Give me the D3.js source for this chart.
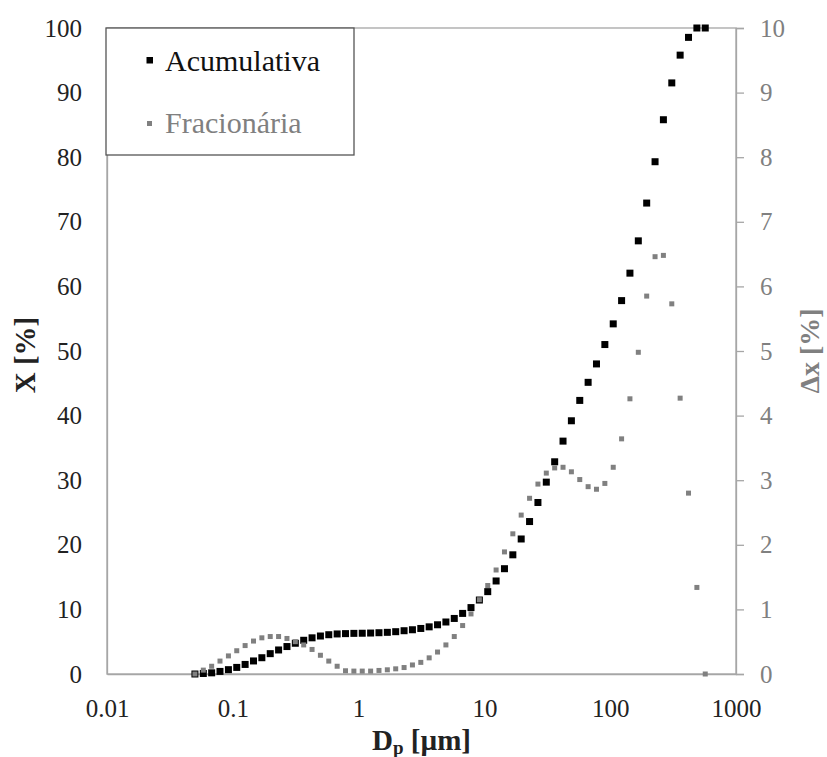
<!DOCTYPE html>
<html lang="pt">
<head>
    <meta charset="UTF-8">
    <title>distribuicao granulometrica</title>
    <script src="https://d3js.org/d3.v7.min.js"></script>
    <style>
        body{ margin:0; background:#fff; }
        text{ font-family:"Liberation Serif","Times New Roman",serif; }
    </style>
</head>
<body>
<svg id="main" width="827" height="757"></svg>

<script>
    // particle diameter [um]
    let size_um = [0.050, 0.0583, 0.0679, 0.0791, 0.0923, 0.1075, 0.1253, 0.1461, 0.1702, 0.1984,
        0.2312, 0.2695, 0.3141, 0.3661, 0.4266, 0.4972, 0.5794, 0.6753, 0.787, 0.9173,
        1.069, 1.246, 1.452, 1.692, 1.972, 2.299, 2.679, 3.122, 3.639, 4.241,
        4.943, 5.761, 6.714, 7.825, 9.12, 10.63, 12.39, 14.44, 16.83, 19.61,
        22.86, 26.64, 31.05, 36.19, 42.17, 49.15, 57.28, 66.76, 77.8, 90.68,
        105.7, 123.2, 143.5, 167.3, 195.0, 227.3, 264.8, 308.7, 359.7, 419.3,
        488.7, 569.6]
    // cumulative X [%] (left axis)
    let acumulativa = [0, 0.08, 0.18, 0.4, 0.67, 1.02, 1.48, 2.02, 2.52, 3.15,
        3.72, 4.25, 4.76, 5.22, 5.6, 5.88, 6.08, 6.2, 6.25, 6.29,
        6.31, 6.34, 6.39, 6.45, 6.55, 6.7, 6.85, 7.05, 7.3, 7.62,
        8.05, 8.6, 9.38, 10.28, 11.45, 12.75, 14.4, 16.3, 18.45, 20.9,
        23.6, 26.55, 29.7, 32.85, 36.05, 39.2, 42.35, 45.15, 48.0, 51.0,
        54.2, 57.8, 62.05, 67.05, 72.9, 79.3, 85.8, 91.5, 95.8, 98.55,
        100, 100]
    // fractional dx [%] (right axis)
    let fracionaria = [0, 0.06, 0.12, 0.2, 0.28, 0.36, 0.44, 0.51, 0.56, 0.58,
        0.58, 0.55, 0.5, 0.45, 0.38, 0.29, 0.2, 0.12, 0.05, 0.045,
        0.045, 0.045, 0.055, 0.065, 0.08, 0.1, 0.14, 0.18, 0.25, 0.34,
        0.45, 0.58, 0.75, 0.93, 1.15, 1.37, 1.61, 1.89, 2.17, 2.46,
        2.72, 2.94, 3.11, 3.19, 3.2, 3.13, 3.01, 2.9, 2.86, 2.95,
        3.2, 3.64, 4.26, 4.98, 5.85, 6.46, 6.48, 5.73, 4.27, 2.8,
        1.34, 0]

    let x_ticks = [0.01, 0.1, 1, 10, 100, 1000]
    let x_tick_labels = ["0.01", "0.1", "1", "10", "100", "1000"]
    let y_ticks = [0, 10, 20, 30, 40, 50, 60, 70, 80, 90, 100]
    let y2_ticks = [0, 1, 2, 3, 4, 5, 6, 7, 8, 9, 10]

    let p_left = 107, p_right = 736, p_top = 28, p_bottom = 674
    let axis_grey = "#a6a6a6"

    let svg = d3.select("#main")

    let x = d3.scaleLog().domain([0.01, 1000]).range([p_left, p_right])
    let y = d3.scaleLinear().domain([0, 100]).range([p_bottom, p_top])
    let y2 = d3.scaleLinear().domain([0, 10]).range([p_bottom, p_top])

    // plot frame
    svg.append("rect")
        .attr("x", p_left).attr("y", p_top)
        .attr("width", p_right - p_left).attr("height", p_bottom - p_top)
        .attr("fill", "none")
        .attr("stroke", axis_grey)
        .attr("stroke-width", 1.3)

    // left axis
    let gl = svg.append("g")
        .attr("transform", `translate(${p_left},0)`)
        .call(d3.axisLeft(y).tickValues(y_ticks).tickSize(0).tickPadding(25))
    gl.select(".domain").attr("stroke", axis_grey).attr("stroke-width", 1.3)
    gl.selectAll("text").attr("font-size", 25).attr("fill", "#222")

    // right axis
    let gr = svg.append("g")
        .attr("transform", `translate(${p_right},0)`)
        .call(d3.axisRight(y2).tickValues(y2_ticks).tickSize(8).tickPadding(16))
    gr.select(".domain").attr("stroke", axis_grey).attr("stroke-width", 1.3)
    gr.selectAll("line").attr("stroke", axis_grey).attr("stroke-width", 1.3)
    gr.selectAll("text").attr("font-size", 25).attr("fill", "#808080")

    // bottom axis
    let gb = svg.append("g")
        .attr("transform", `translate(0,${p_bottom})`)
        .call(d3.axisBottom(x).tickValues(x_ticks).tickSize(0).tickPadding(25)
            .tickFormat((d, i) => x_tick_labels[i]))
    gb.select(".domain").attr("stroke", axis_grey).attr("stroke-width", 1.3)
    gb.selectAll("text").attr("font-size", 25).attr("fill", "#222")

    // cumulative points (black, a bit bigger)
    let sb = 7
    svg.append("g").selectAll("rect")
        .data(size_um)
        .join("rect")
        .attr("x", (d) => x(d) - sb / 2)
        .attr("y", (d, i) => y(acumulativa[i]) - sb / 2)
        .attr("width", sb).attr("height", sb)
        .attr("fill", "#000")

    // fractional points (grey) on top
    let sg = 5
    svg.append("g").selectAll("rect")
        .data(size_um)
        .join("rect")
        .attr("x", (d) => x(d) - sg / 2)
        .attr("y", (d, i) => y2(fracionaria[i]) - sg / 2)
        .attr("width", sg).attr("height", sg)
        .attr("fill", "#808080")

    // axis titles
    svg.append("text")
        .attr("transform", `translate(35,${(p_top + p_bottom) / 2 + 4}) rotate(-90)`)
        .attr("text-anchor", "middle")
        .attr("font-size", 29).attr("font-weight", "bold").attr("fill", "#222")
        .text("X [%]")

    svg.append("text")
        .attr("transform", `translate(819,${(p_top + p_bottom) / 2}) rotate(-90)`)
        .attr("text-anchor", "middle")
        .attr("font-size", 28).attr("font-weight", "bold").attr("fill", "#808080")
        .text("Δx [%]")

    let xt = svg.append("text")
        .attr("x", (p_left + p_right) / 2).attr("y", 750)
        .attr("text-anchor", "middle")
        .attr("font-size", 29).attr("font-weight", "bold").attr("fill", "#222")
    xt.append("tspan").text("D")
    xt.append("tspan").attr("font-size", 19).attr("dy", 4).text("p")
    xt.append("tspan").attr("dy", -4).text(" [µm]")

    // legend
    let lg = svg.append("g")
    lg.append("rect")
        .attr("x", 106).attr("y", p_top)
        .attr("width", 248).attr("height", 127)
        .attr("fill", "#fff")
        .attr("stroke", "#555").attr("stroke-width", 1.3)
    lg.append("rect").attr("x", 146.5).attr("y", 57).attr("width", 6.5).attr("height", 6.5).attr("fill", "#000")
    lg.append("text").attr("x", 165).attr("y", 71)
        .attr("font-size", 30).attr("fill", "#111").text("Acumulativa")
    lg.append("rect").attr("x", 147).attr("y", 121).attr("width", 5).attr("height", 5).attr("fill", "#808080")
    lg.append("text").attr("x", 165).attr("y", 133)
        .attr("font-size", 30).attr("fill", "#808080").text("Fracionária")
</script>

</body>
</html>
